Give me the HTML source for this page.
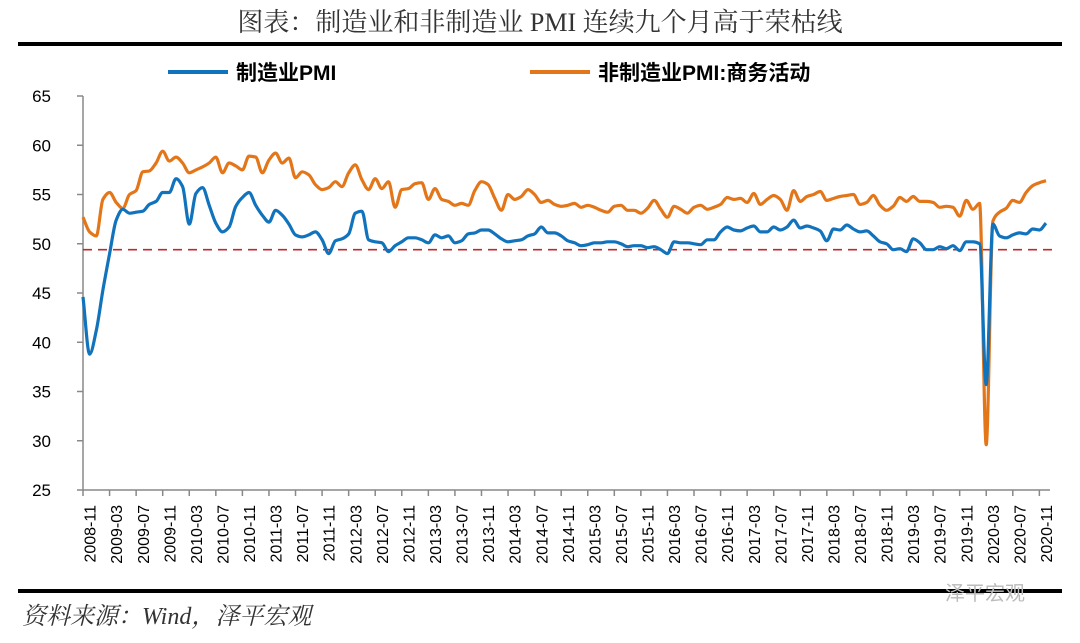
<!DOCTYPE html>
<html><head><meta charset="utf-8"><style>
body{margin:0;width:1080px;height:638px;background:#fff;overflow:hidden;font-family:"Liberation Sans","Noto Sans CJK SC",sans-serif}
</style></head><body>
<svg id="chart" width="1080" height="638" viewBox="0 0 1080 638" xmlns="http://www.w3.org/2000/svg">
<text x="540" y="31" text-anchor="middle" font-family="'Liberation Serif','Noto Serif CJK SC',serif" font-size="26" fill="#333">图表：制造业和非制造业 PMI 连续九个月高于荣枯线</text>
<rect x="18" y="42" width="1044" height="4" fill="#000"/>
<g>
<line x1="168" y1="72" x2="228" y2="72" stroke="#1273bd" stroke-width="4"/>
<text x="236" y="80" font-size="21" font-weight="bold" fill="#000" font-family="'Liberation Sans','Noto Sans CJK SC',sans-serif">制造业PMI</text>
<line x1="530" y1="72" x2="590" y2="72" stroke="#e4761a" stroke-width="4"/>
<text x="598" y="80" font-size="21" font-weight="bold" fill="#000" font-family="'Liberation Sans','Noto Sans CJK SC',sans-serif">非制造业PMI:商务活动</text>
</g>
<g id="axes"></g>
<g id="series"></g>
<rect x="18" y="589" width="1044" height="4" fill="#000"/>
<text x="22" y="624" font-size="24" font-style="italic" fill="#333" font-family="'Liberation Serif','Noto Serif CJK SC',serif">资料来源：Wind，泽平宏观</text>
<text x="945" y="600" font-size="20" fill="#bbb" font-family="'Liberation Sans','Noto Sans CJK SC',sans-serif">泽平宏观</text>
</svg>
<script>
const manufacturing = [44.6,38.8,41.2,
45.3,49.0,52.4,53.5,53.1,53.2,53.3,54.0,54.3,55.2,55.2,56.6,
55.8,52.0,55.1,55.7,53.9,52.1,51.2,51.7,53.8,54.7,55.2,53.9,
52.9,52.2,53.4,52.9,52.0,50.9,50.7,50.9,51.2,50.4,49.0,50.3,
50.5,51.0,53.1,53.3,50.4,50.2,50.1,49.2,49.8,50.2,50.6,50.6,
50.4,50.1,50.9,50.6,50.8,50.1,50.3,51.0,51.1,51.4,51.4,51.0,
50.5,50.2,50.3,50.4,50.8,51.0,51.7,51.1,51.1,50.8,50.3,50.1,
49.8,49.9,50.1,50.1,50.2,50.2,50.0,49.7,49.8,49.8,49.6,49.7,
49.4,49.0,50.2,50.1,50.1,50.0,49.9,50.4,50.4,51.2,51.7,51.4,
51.3,51.6,51.8,51.2,51.2,51.7,51.4,51.7,52.4,51.6,51.8,51.6,
51.3,50.3,51.5,51.4,51.9,51.5,51.2,51.3,50.8,50.2,50.0,49.4,
49.5,49.2,50.5,50.1,49.4,49.4,49.7,49.5,49.8,49.3,50.2,50.2,
50.0,35.7,52.0,50.8,50.6,50.9,51.1,51.0,51.5,51.4,52.1];
const nonManufacturing = [52.7,51.2,50.8,54.5,55.2,54.2,53.6,55.0,55.4,57.3,57.4,58.2,59.4,58.4,58.8,58.2,57.2,57.5,57.8,58.2,58.8,57.2,58.2,57.9,57.5,58.9,58.8,57.2,58.5,59.2,58.2,58.7,56.7,57.3,57.0,56.0,55.5,55.7,56.3,55.8,57.2,58.0,56.5,55.5,56.6,
55.6,56.3,53.7,55.5,55.6,56.1,
56.2,54.5,55.6,54.5,54.3,53.9,54.1,53.9,55.4,56.3,56.0,54.6,
53.4,55.0,54.5,54.8,55.5,55.0,54.2,54.4,54.0,53.8,53.9,54.1,
53.7,53.9,53.7,53.4,53.2,53.8,53.9,53.4,53.4,53.1,53.6,54.4,
53.5,52.7,53.8,53.5,53.1,53.7,53.9,53.5,53.7,54.0,54.7,54.5,
54.6,54.2,55.1,54.0,54.5,54.9,54.5,53.4,55.4,54.3,54.8,55.0,
55.3,54.4,54.6,54.8,54.9,55.0,54.0,54.2,54.9,53.9,53.4,53.8,
54.7,54.3,54.8,54.3,54.3,54.2,53.7,53.8,53.7,52.8,54.4,53.5,
54.1,29.6,52.3,53.2,53.6,54.4,54.2,55.2,55.9,56.2,56.4];
const yTicks = [25,30,35,40,45,50,55,60,65];
const thresholdValue = 49.4;
const startYear = 2008, startMonth = 10;

const NS='http://www.w3.org/2000/svg';
const X0=83, X1=1046, Y0=490, Y1=96, YMIN=25, YMAX=65;
const n = manufacturing.length;
function xs(i){return X0 + i*(X1-X0)/(n-1);}
function ys(v){return Y0 - (v-YMIN)*(Y0-Y1)/(YMAX-YMIN);}
function mk(tag, attrs, parent){const e=document.createElementNS(NS,tag);for(const k in attrs)e.setAttribute(k,attrs[k]);parent.appendChild(e);return e;}
const axes=document.getElementById('axes'), series=document.getElementById('series');

let el = mk('line',{x1:X0,y1:Y1,x2:X0,y2:Y0,stroke:'#888','stroke-width':1.5},axes);


el = mk('line',{x1:X0,y1:Y0,x2:X1+4,y2:Y0,stroke:'#888','stroke-width':1.5},axes);


yTicks.forEach(v=>{
  const t=mk('line',{x1:X0-6,y1:ys(v),x2:X0,y2:ys(v),stroke:'#888','stroke-width':1.5},axes);
  
  
  const l=mk('text',{x:X0-32,y:ys(v)+6,'text-anchor':'end','font-size':17,fill:'#000'},axes);
  l.textContent=v;
  
  
});
for(let i=0;i<n;i+=4){
  const t=mk('line',{x1:xs(i),y1:Y0,x2:xs(i),y2:Y0+6,stroke:'#888','stroke-width':1.5},axes);
  
  
}
for(let i=1;i<n;i+=4){
  const m0=startMonth-1+i, yr=startYear+Math.floor(m0/12), mo=m0%12+1;
  const lbl=yr+'-'+(mo<10?'0':'')+mo;
  const x=xs(i)+6;
  const l=mk('text',{x:x,y:505,'text-anchor':'end','font-size':16,fill:'#000',transform:'rotate(-90 '+x+' 505)'},axes);
  l.textContent=lbl;
  
  
}
el = mk('line',{x1:X0,y1:ys(thresholdValue),x2:X1+6,y2:ys(thresholdValue),stroke:'#c0282d','stroke-width':1.6,'stroke-dasharray':'9 6'},series);


function path(arr){
  const p=arr.map((v,i)=>[xs(i),ys(v)]);
  const N=p.length, h=p[1][0]-p[0][0];
  const dlt=[];for(let i=0;i<N-1;i++)dlt.push((p[i+1][1]-p[i][1])/h);
  const m=[];
  for(let i=0;i<N;i++){
    if(i===0)m.push(dlt[0]);else if(i===N-1)m.push(dlt[N-2]);
    else{const a=dlt[i-1],b=dlt[i];m.push(a*b<=0?0:2*a*b/(a+b));}
  }
  let d='M'+p[0][0].toFixed(1)+' '+p[0][1].toFixed(1);
  for(let i=0;i<N-1;i++){
    const b=p[i],c=p[i+1];
    d+=' C'+(b[0]+h/3).toFixed(1)+' '+(b[1]+m[i]*h/3).toFixed(1)+' '+(c[0]-h/3).toFixed(1)+' '+(c[1]-m[i+1]*h/3).toFixed(1)+' '+c[0].toFixed(1)+' '+c[1].toFixed(1);
  }
  return d;
}
el = mk('path',{d:path(nonManufacturing),fill:'none',stroke:'#e4761a','stroke-width':3.2,'stroke-linejoin':'round'},series);


el = mk('path',{d:path(manufacturing),fill:'none',stroke:'#1273bd','stroke-width':3.2,'stroke-linejoin':'round'},series);


</script>
</body></html>
